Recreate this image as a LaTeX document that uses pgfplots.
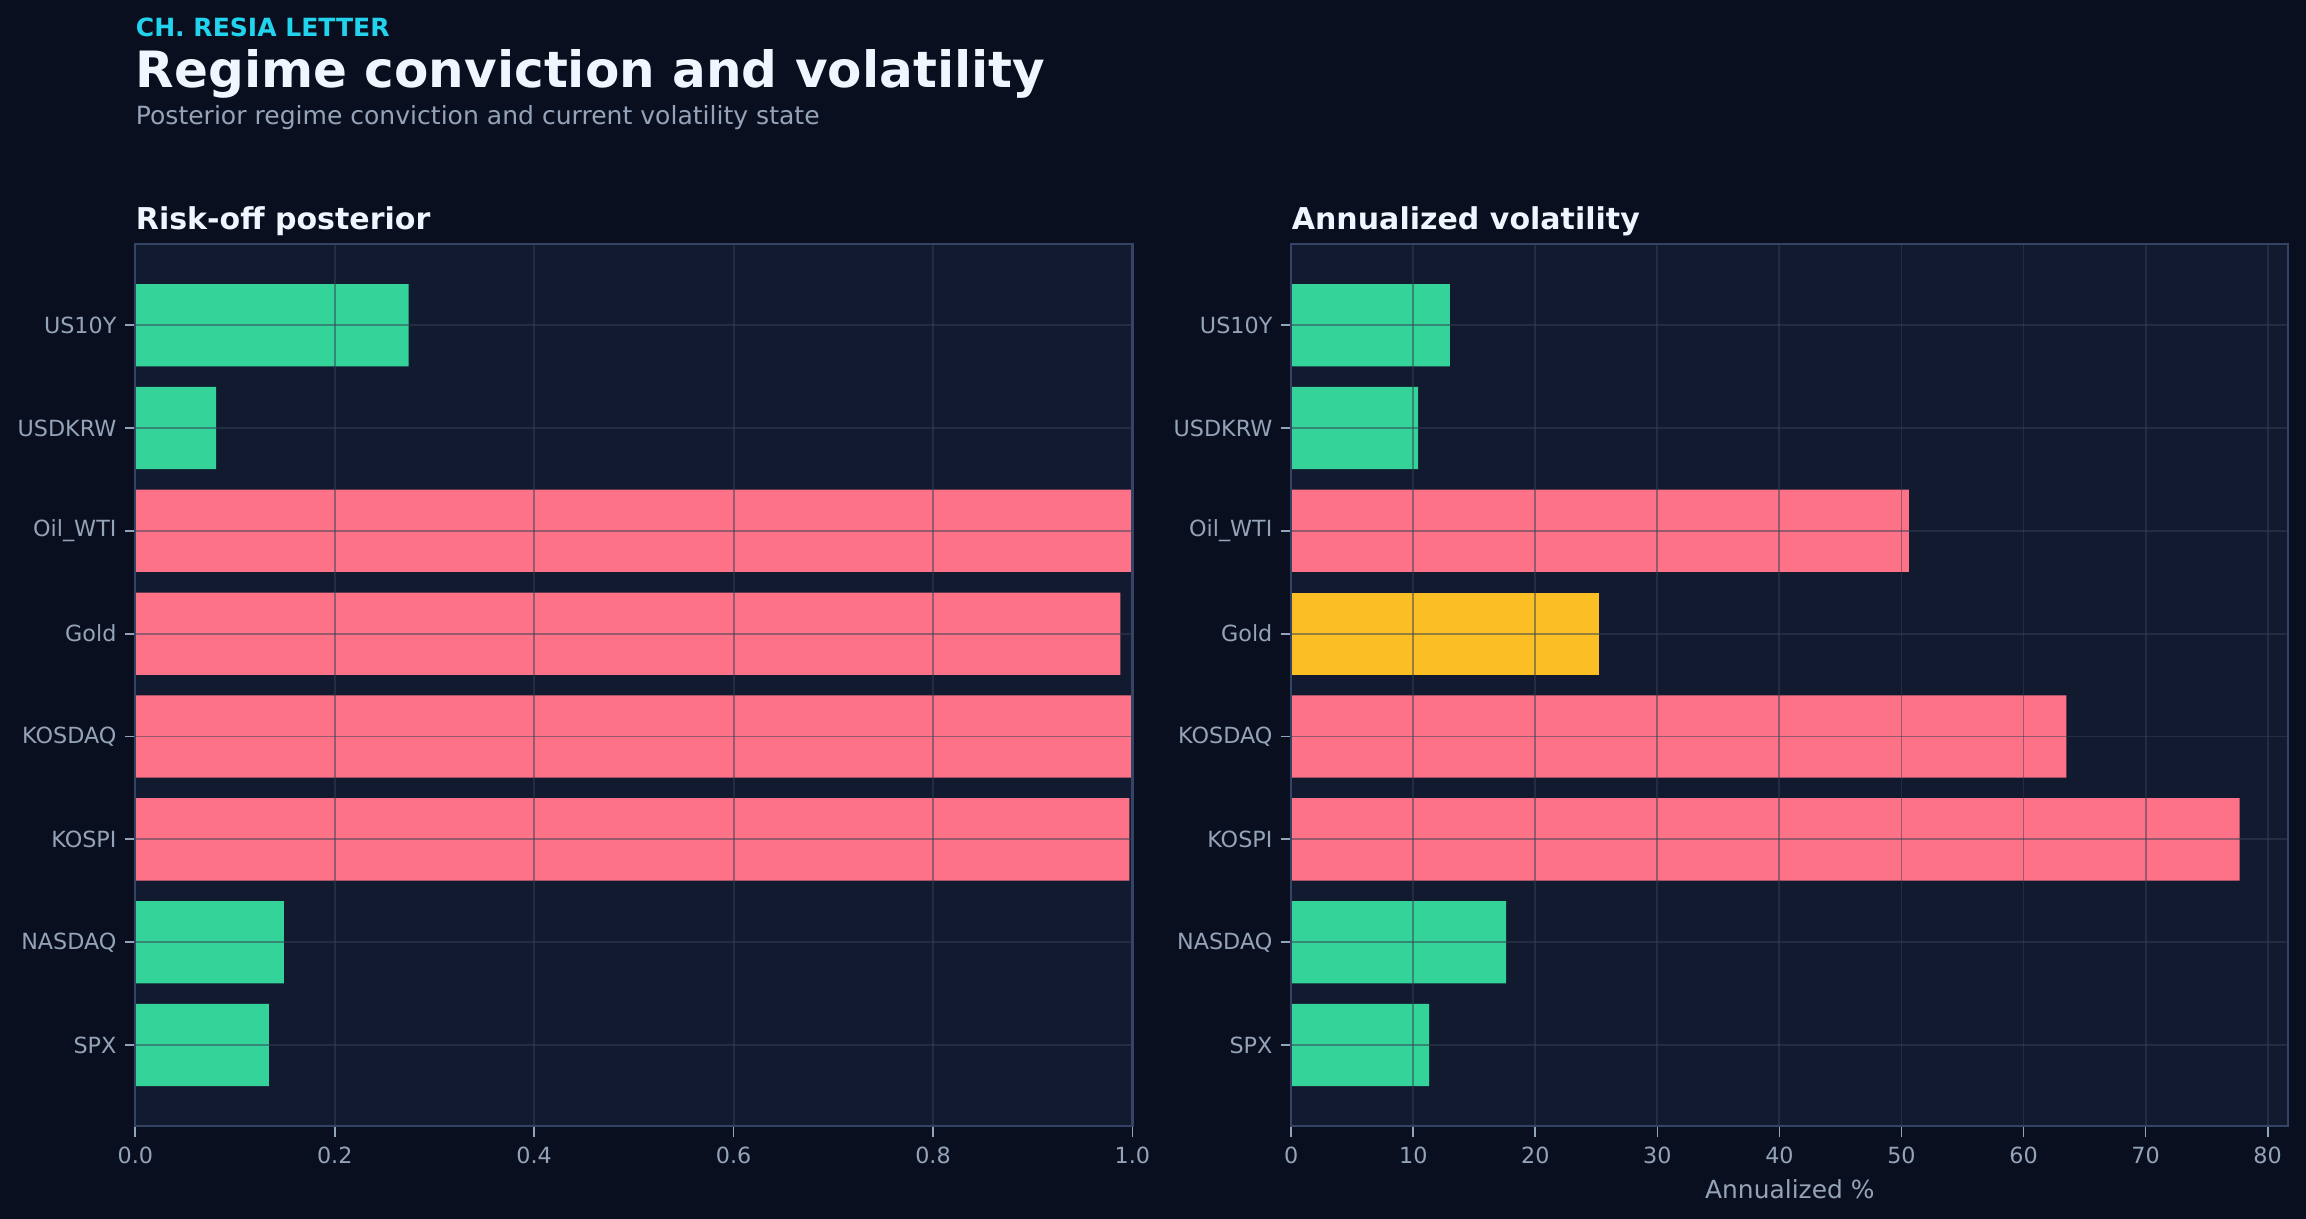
\documentclass[border=0pt]{standalone}
\usepackage{fontspec}
\setmainfont{DejaVu Sans}
\usepackage{pgfplots}
\pgfplotsset{compat=1.18}
\definecolor{figbg}{HTML}{0A0F1F}
\definecolor{axbg}{HTML}{111A2E}
\definecolor{spinec}{HTML}{334466}
\definecolor{gridc}{HTML}{334155}
\definecolor{labc}{HTML}{94A3B8}
\definecolor{titc}{HTML}{F1F5FF}
\definecolor{kick}{HTML}{22D3EE}
\definecolor{cgreen}{HTML}{34D399}
\definecolor{cred}{HTML}{FD7287}
\definecolor{cyellow}{HTML}{FBBF24}
\pgfplotsset{
  panel/.style={
    scale only axis, width=339bp, height=300bp, anchor=south west,
    xbar, bar width=0.8, bar shift=0pt,
    axis background/.style={fill=axbg},
    axis line style={spinec, line width=0.75bp},
    axis on top,
    grid=major,
    major grid style={gridc, opacity=0.5, line width=0.65bp},
    tick pos=left, tick align=outside,
    major tick length=3.5bp,
    tick style={labc, line width=0.6bp},
    ticklabel style={font=\fontsize{7.6}{9}\selectfont, text=labc},
    yticklabel style={xshift=0.6bp},
    /pgf/number format/assume math mode=true,
    ymin=-0.79, ymax=7.79,
    ytick={0,...,7},
    yticklabels={SPX,NASDAQ,KOSPI,KOSDAQ,Gold,Oil\_WTI,USDKRW,US10Y},
    xmin=0,
  }
}
\begin{document}
\begin{tikzpicture}
\path[use as bounding box] (0,0) rectangle (784bp,414.43bp);
\fill[figbg] (-3bp,-3bp) rectangle (787bp,418bp);
\node[anchor=base west, inner sep=0, text=kick, font=\bfseries\fontsize{8.55}{10}\selectfont] at (46bp,402bp) {CH. RESIA LETTER};
\node[anchor=base west, inner sep=0, text=titc, font=\bfseries\fontsize{17.08}{20}\selectfont] at (46bp,384.8bp) {Regime conviction and volatility};
\node[anchor=base west, inner sep=0, text=labc, font=\fontsize{8.55}{10}\selectfont] at (46bp,372bp) {Posterior regime conviction and current volatility state};
\node[anchor=base west, inner sep=0, text=titc, font=\bfseries\fontsize{10.25}{12}\selectfont] at (46bp,336.3bp) {Risk-off posterior};
\node[anchor=base west, inner sep=0, text=titc, font=\bfseries\fontsize{10.25}{12}\selectfont] at (439bp,336.3bp) {Annualized volatility};

\begin{axis}[panel, at={(46bp,31.5bp)}, xmax=1.0,
  xtick={0,0.2,...,1.0},
  xticklabel style={/pgf/number format/.cd, fixed, fixed zerofill, precision=1},
]
\addplot[draw=none, fill=cgreen] coordinates {(0.134,0) (0.149,1) (0.081,6) (0.274,7)};
\addplot[draw=none, fill=cred] coordinates {(0.997,2) (1.0,3) (0.988,4) (1.0,5)};
\end{axis}

\begin{axis}[panel, at={(439bp,31.5bp)}, xmax=81.7,
  xtick={0,10,...,80},
  xlabel={Annualized \%},
  xlabel style={font=\fontsize{8.5}{10}\selectfont, text=labc, yshift=1.5bp},
]
\addplot[draw=none, fill=cgreen] coordinates {(11.3,0) (17.6,1) (10.4,6) (13.0,7)};
\addplot[draw=none, fill=cred] coordinates {(77.7,2) (63.5,3) (50.6,5)};
\addplot[draw=none, fill=cyellow] coordinates {(25.2,4)};
\end{axis}
\end{tikzpicture}
\end{document}
